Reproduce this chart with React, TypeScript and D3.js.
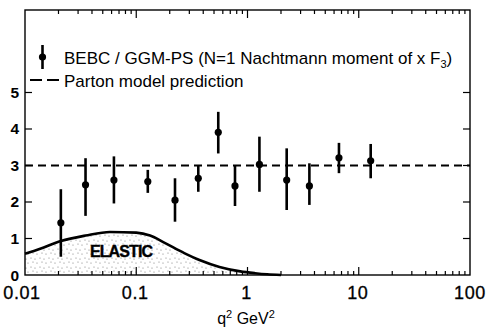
import React, { useRef, useEffect } from "react";
import * as d3 from "d3";

// BEBC / GGM-PS points (q^2 in GeV^2)
const Q2 = [0.021, 0.035, 0.063, 0.127, 0.223, 0.361, 0.546, 0.772, 1.28, 2.25, 3.6, 6.64, 12.8];
const MOMENT = [1.43, 2.47, 2.6, 2.56, 2.05, 2.65, 3.91, 2.44, 3.03, 2.6, 2.44, 3.21, 3.13];
const ERR_HI = [2.35, 3.2, 3.25, 2.88, 2.65, 3.0, 4.47, 3.0, 3.79, 3.47, 3.06, 3.62, 3.59];
const ERR_LO = [0.5, 1.62, 1.96, 2.25, 1.46, 2.28, 3.33, 1.89, 2.28, 1.78, 1.92, 2.79, 2.65];

// elastic contribution
const ELASTIC_Q2 = [0.01, 0.0137, 0.021, 0.035, 0.058, 0.1, 0.133, 0.18, 0.27, 0.37, 0.56, 0.86, 1.17, 1.5, 2.0];
const ELASTIC_VAL = [0.58, 0.72, 0.93, 1.08, 1.18, 1.16, 1.08, 0.88, 0.6, 0.41, 0.22, 0.1, 0.05, 0.02, 0];

const PARTON = 3;
const Y_TICKS = [0, 1, 2, 3, 4, 5];
const X_TICKS = [0.01, 0.1, 1, 10, 100];
const X_LABELS = ["0.01", "0.1", "1", "10", "100"];

const W = 488;
const H = 327;
const FONT = "'Liberation Sans', Arial, sans-serif";

const App: React.FC = () => {
  const svgRef = useRef<SVGSVGElement | null>(null);

  useEffect(() => {
    if (!svgRef.current) return;
    const svg = d3.select(svgRef.current);
    svg.selectAll("*").remove();

    const x = d3.scaleLog().domain([0.01, 100]).range([25, 470]);
    const y = d3.scaleLinear().domain([0, 7.26]).range([275, 10]);
    const [x0, x1] = x.range();
    const [yb, yt] = y.range();

    // stipple for the elastic area
    const defs = svg.append("defs");
    const pat = defs
      .append("pattern")
      .attr("id", "stipple")
      .attr("width", 9)
      .attr("height", 9)
      .attr("patternUnits", "userSpaceOnUse");
    [[1, 2], [6, 1], [4, 6], [8, 7]].forEach(([cx, cy]) =>
      pat.append("circle").attr("cx", cx).attr("cy", cy).attr("r", 0.6).attr("fill", "#777")
    );

    const elastic = ELASTIC_Q2.map((q, i) => ({ q, v: ELASTIC_VAL[i] }));
    const area = d3
      .area<{ q: number; v: number }>()
      .x((d) => x(d.q))
      .y0(yb)
      .y1((d) => y(d.v))
      .curve(d3.curveMonotoneX);
    const line = d3
      .line<{ q: number; v: number }>()
      .x((d) => x(d.q))
      .y((d) => y(d.v))
      .curve(d3.curveMonotoneX);

    svg.append("path").attr("d", area(elastic)).attr("fill", "url(#stipple)");
    svg
      .append("path")
      .attr("d", line(elastic))
      .attr("fill", "none")
      .attr("stroke", "#000")
      .attr("stroke-width", 2.6);

    svg
      .append("text")
      .attr("x", x(0.073))
      .attr("y", y(0.49))
      .attr("text-anchor", "middle")
      .attr("font-family", FONT)
      .attr("font-weight", "bold")
      .attr("font-size", 16)
      .attr("letter-spacing", -0.9)
      .attr("stroke", "#000")
      .attr("stroke-width", 0.4)
      .text("ELASTIC");

    // frame
    svg
      .append("rect")
      .attr("x", x0)
      .attr("y", yt)
      .attr("width", x1 - x0)
      .attr("height", yb - yt)
      .attr("fill", "none")
      .attr("stroke", "#000")
      .attr("stroke-width", 1.4);

    // x ticks (bottom + top), inward
    const minor: number[] = [];
    [0.01, 0.1, 1, 10].forEach((d) => {
      for (let k = 2; k <= 9; k++) minor.push(d * k);
    });
    const tg = svg.append("g").attr("stroke", "#000").attr("stroke-width", 1.2);
    minor.forEach((v) => {
      tg.append("line").attr("x1", x(v)).attr("x2", x(v)).attr("y1", yb).attr("y2", yb - 4);
      tg.append("line").attr("x1", x(v)).attr("x2", x(v)).attr("y1", yt).attr("y2", yt + 4);
    });
    X_TICKS.slice(1, -1).forEach((v) => {
      tg.append("line").attr("x1", x(v)).attr("x2", x(v)).attr("y1", yb).attr("y2", yb - 8);
      tg.append("line").attr("x1", x(v)).attr("x2", x(v)).attr("y1", yt).attr("y2", yt + 8);
    });
    Y_TICKS.slice(1).forEach((v) => {
      tg.append("line").attr("x1", x0).attr("x2", x0 + 7).attr("y1", y(v)).attr("y2", y(v));
      tg.append("line").attr("x1", x1).attr("x2", x1 - 7).attr("y1", y(v)).attr("y2", y(v));
    });

    // tick labels
    svg
      .append("g")
      .selectAll("text")
      .data(Y_TICKS)
      .join("text")
      .attr("x", 19)
      .attr("y", (d) => y(d) + 5.5)
      .attr("text-anchor", "end")
      .attr("font-family", FONT)
      .attr("font-weight", "bold")
      .attr("font-size", 15.5)
      .text((d) => d);

    svg
      .append("g")
      .selectAll("text")
      .data(X_TICKS)
      .join("text")
      .attr("x", (d, i) => x(d) + (i === 0 ? -3 : i === 4 ? 0 : -1))
      .attr("y", 299)
      .attr("text-anchor", "middle")
      .attr("font-family", FONT)
      .attr("font-size", 18)
      .attr("letter-spacing", 0.6)
      .attr("stroke", "#000")
      .attr("stroke-width", 0.3)
      .text((d, i) => X_LABELS[i]);

    const xl = svg
      .append("text")
      .attr("x", 246)
      .attr("y", 324)
      .attr("text-anchor", "middle")
      .attr("font-family", FONT)
      .attr("font-size", 16);
    xl.append("tspan").text("q");
    xl.append("tspan").attr("dy", -6).attr("font-size", 11).text("2");
    xl.append("tspan").attr("dy", 6).text(" GeV");
    xl.append("tspan").attr("dy", -6).attr("font-size", 11).text("2");

    // parton model
    svg
      .append("line")
      .attr("x1", x0)
      .attr("x2", x1)
      .attr("y1", y(PARTON))
      .attr("y2", y(PARTON))
      .attr("stroke", "#000")
      .attr("stroke-width", 2)
      .attr("stroke-dasharray", "8,5");

    // data with error bars
    const pts = Q2.map((q, i) => ({ q, v: MOMENT[i], lo: ERR_LO[i], hi: ERR_HI[i] }));
    const pg = svg.append("g");
    pg.selectAll("line")
      .data(pts)
      .join("line")
      .attr("x1", (d) => x(d.q))
      .attr("x2", (d) => x(d.q))
      .attr("y1", (d) => y(d.lo))
      .attr("y2", (d) => y(d.hi))
      .attr("stroke", "#000")
      .attr("stroke-width", 2.6);
    pg.selectAll("circle")
      .data(pts)
      .join("circle")
      .attr("cx", (d) => x(d.q))
      .attr("cy", (d) => y(d.v))
      .attr("r", 3.6)
      .attr("fill", "#000");

    // legend
    const lg = svg.append("g").attr("font-family", FONT).attr("font-size", 17);
    lg.append("line")
      .attr("x1", 42.5)
      .attr("x2", 42.5)
      .attr("y1", 45)
      .attr("y2", 69)
      .attr("stroke", "#000")
      .attr("stroke-width", 2.6);
    lg.append("circle").attr("cx", 42.5).attr("cy", 57).attr("r", 3.6).attr("fill", "#000");
    const t1 = lg.append("text").attr("x", 64).attr("y", 63.5);
    t1.append("tspan").text("BEBC / GGM-PS (N=1 Nachtmann moment of x F");
    t1.append("tspan").attr("dy", 4).attr("font-size", 11).text("3");
    t1.append("tspan").attr("dy", -4).text(")");

    lg.append("line")
      .attr("x1", 30)
      .attr("x2", 60)
      .attr("y1", 80)
      .attr("y2", 80)
      .attr("stroke", "#000")
      .attr("stroke-width", 2)
      .attr("stroke-dasharray", "12,5");
    lg.append("text").attr("x", 64).attr("y", 86.5).text("Parton model prediction");
  }, []);

  return (
    <svg
      ref={svgRef}
      width={W}
      height={H}
      style={{ position: "absolute", left: 0, top: 0, background: "#fff" }}
    />
  );
};

export default App;
